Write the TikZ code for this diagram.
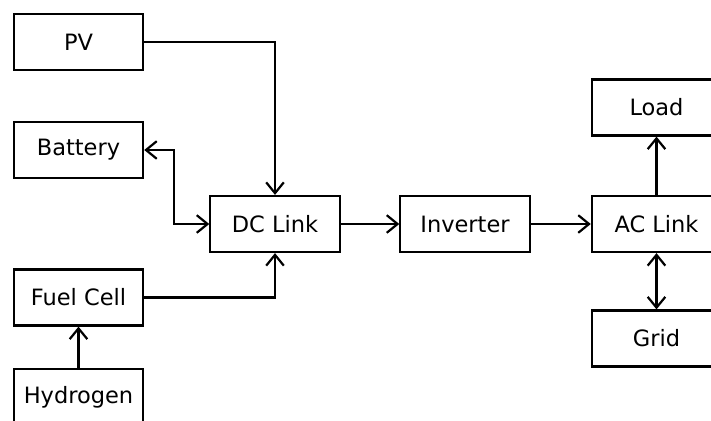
\documentclass[tikz,border=0pt]{standalone}
\usepackage{fontspec}
\setmainfont{DejaVu Sans}
\usepackage{tikz}
\usetikzlibrary{arrows.meta}

\begin{document}
\begin{tikzpicture}[x=0.025cm, y=-0.025cm, >={Straight Barb[length=0.27cm, width=0.44cm]},
  line width=0.055cm,
  every node/.style={font=\fontsize{16}{19}\selectfont},
  block/.style={draw, line width=0.055cm, minimum width=3.23cm, minimum height=1.4cm, inner sep=0pt}]
  \useasboundingbox (0,0) rectangle (711,421);
  \clip (0,0) rectangle (711,421);
  \node[block] (pv) at (78.5,42) {PV};
  \node[block] (bat) at (78.5,150) {Battery};
  \node[block] (fc) at (78.5,297.5) {Fuel Cell};
  \node[block] (h2) at (78.5,397) {Hydrogen};
  \node[block] (dc) at (275,224) {DC Link};
  \node[block] (inv) at (465,224) {Inverter};
  \node[block] (ac) at (656.5,224) {AC Link};
  \node[block] (load) at (656.5,107.5) {Load};
  \node[block] (grid) at (656.5,338.5) {Grid};
  \draw[->] (pv) -| (dc);
  \draw[<->] (bat.east) -- ++(30,0) |- (dc.west);
  \draw[->] (fc) -| (dc);
  \draw[->] (h2) -- (fc);
  \draw[->] (dc) -- (inv);
  \draw[->] (inv) -- (ac);
  \draw[->] (ac) -- (load);
  \draw[<->] (ac) -- (grid);
\end{tikzpicture}
\end{document}
